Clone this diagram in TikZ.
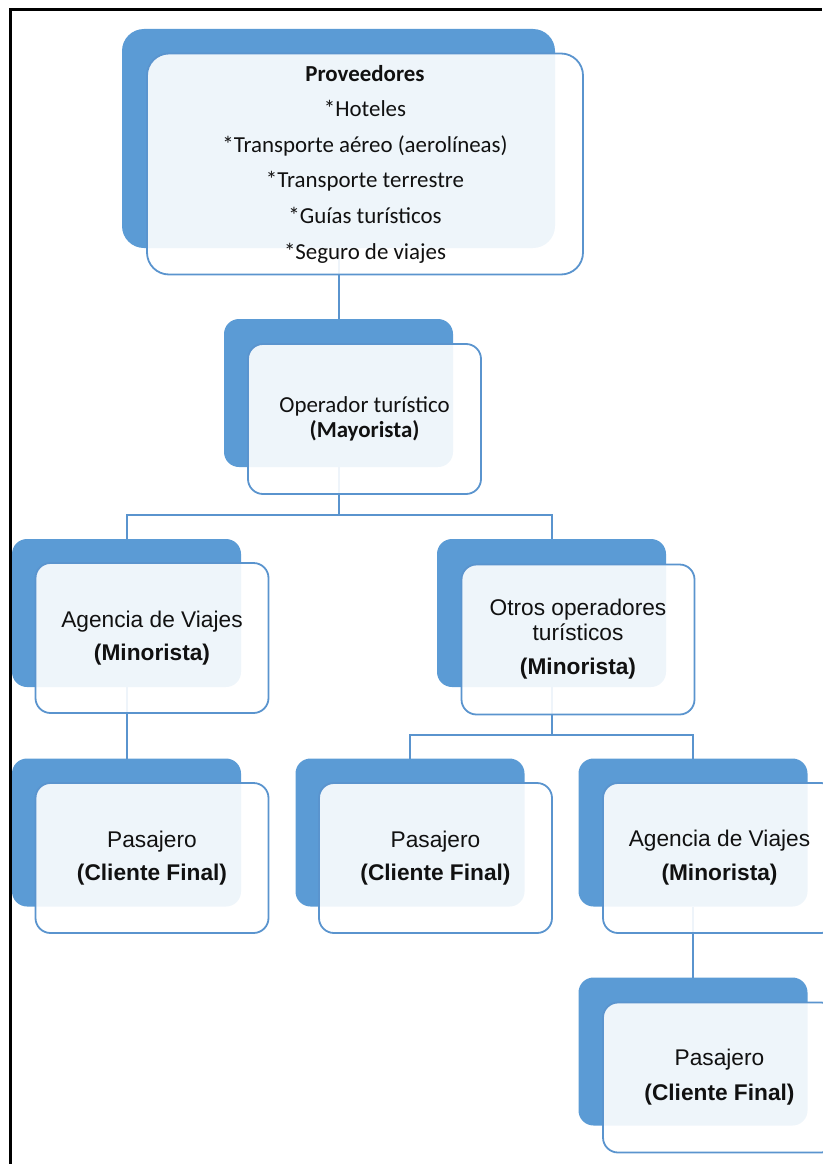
\documentclass[tikz,border=0pt]{standalone}
\usepackage{fontspec}
\setmainfont{Liberation Sans}
\newfontfamily\calibrifont{Carlito}
\definecolor{accent}{HTML}{5B9BD5}
\definecolor{edgeblue}{HTML}{5A94CE}
\definecolor{inkcol}{HTML}{111111}
\begin{document}
\begin{tikzpicture}[x=1pt,y=-1pt,
  backbox/.style={rectangle, fill=accent, inner sep=0pt, outer sep=0pt,
    rounded corners=15pt, minimum width=229pt, minimum height=148pt},
  frontbox/.style={rectangle, draw=edgeblue, line width=1.8pt, fill=white,
    fill opacity=0.9, text opacity=1, text=inkcol, inner sep=0pt, outer sep=0pt,
    rounded corners=15pt, minimum width=233pt, minimum height=150pt, align=center},
  bigback/.style={backbox, rounded corners=22pt, minimum width=433pt, minimum height=219pt},
  bigfront/.style={frontbox, rounded corners=22pt, minimum width=436pt, minimum height=221pt},
  link/.style={draw=edgeblue, line width=2pt},
  arialtext/.style={font=\fontsize{22.7pt}{#1}\selectfont},
  calibritext/.style={font=\calibrifont\fontsize{22.9pt}{#1}\selectfont},
]
\useasboundingbox (0,0) rectangle (822,1164);

% page frame
\draw[black, line width=3pt] (10.5,1164) -- (10.5,9.5) -- (822,9.5);

% back panels
\node[bigback] (b1) at (338.5,138.5) {};
\node[backbox] (b2) at (338.5,393) {};
\node[backbox] (b3) at (126.5,613) {};
\node[backbox] (b4) at (551.5,613) {};
\node[backbox] (b5) at (126.5,832.5) {};
\node[backbox] (b6) at (410,832.5) {};
\node[backbox] (b7) at (693,832.5) {};
\node[backbox] (b8) at (693,1051.5) {};

% connectors
\coordinate (j1) at (338.5,515);
\coordinate (j2) at (551.5,735);
\draw[link] (b1.south) -- (b2.north);
\draw[link] (b2.south) -- (j1) -| (b3.north);
\draw[link] (j1) -| (b4.north);
\draw[link] (b3.south) -- (b5.north);
\draw[link] (b4.south) -- (j2) -| (b6.north);
\draw[link] (j2) -| (b7.north);
\draw[link] (b7.south) -- (b8.north);

% front panels with their texts
\node[bigfront, calibritext=35.6pt] (f1) at (365,164)
  {\textbf{Proveedores}\\*Hoteles\\*Transporte aéreo (aerolíneas)\\*Transporte terrestre\\*Guías turísticos\\*Seguro de viajes};
\node[frontbox, calibritext=25.6pt] (f2) at (364.5,419)
  {Operador turístico\\\textbf{(Mayorista)}};
\node[frontbox, arialtext=32.4pt] (f3) at (152,638)
  {Agencia de Viajes\\\textbf{(Minorista)}};
\node[frontbox, arialtext=25pt] (f4) at (578,639.5)
  {Otros operadores\\turísticos\\[9pt]\textbf{(Minorista)}};
\node[frontbox, arialtext=33.4pt] (f5) at (152,858)
  {Pasajero\\\textbf{(Cliente Final)}};
\node[frontbox, arialtext=33.4pt] (f6) at (435.5,858)
  {Pasajero\\\textbf{(Cliente Final)}};
\node[frontbox, arialtext=34pt] (f7) at (719.5,858)
  {Agencia de Viajes\\\textbf{(Minorista)}};
\node[frontbox, arialtext=35pt] (f8) at (719.5,1077.5)
  {Pasajero\\\textbf{(Cliente Final)}};
\end{tikzpicture}
\end{document}
